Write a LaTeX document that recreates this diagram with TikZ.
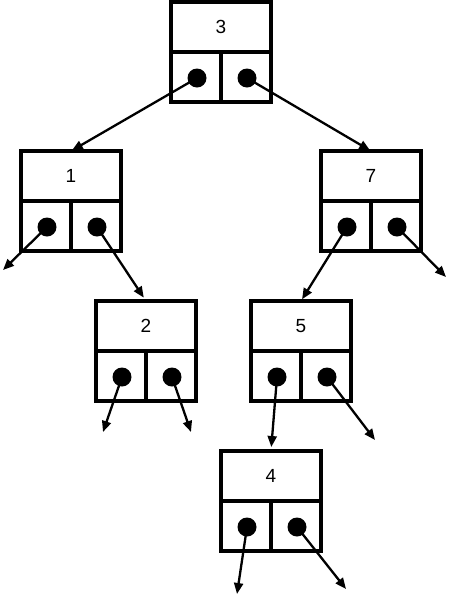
\documentclass[tikz,border=0pt]{standalone}
\usepackage{fontspec}
\setmainfont{Liberation Sans}
\usetikzlibrary{arrows.meta}
\tikzset{
  half/.style={draw, line width=3.2pt, minimum width=100pt, minimum height=50pt, inner sep=0pt, outer sep=0pt, font=\fontsize{19}{22}\selectfont},
  cell/.style={draw, line width=3.2pt, minimum width=50pt, minimum height=50pt, inner sep=0pt, outer sep=0pt},
  dot/.style={circle, fill=black, minimum size=19pt, inner sep=0pt, outer sep=0pt},
  ptr/.style={line width=2.3pt, -{Triangle[length=11pt,width=9pt]}}
}
\newcommand\myrecord[4]{%
  \node[half] (#1) at ({#2+50},{#3+25}) {#4};
  \node[cell] (#1L) at ({#2+25},{#3+75}) {};
  \node[cell] (#1R) at ({#2+75},{#3+75}) {};
  \node[dot] (#1Ld) at ({#2+26},{#3+76}) {};
  \node[dot] (#1Rd) at ({#2+76},{#3+76}) {};
}
\begin{document}
\begin{tikzpicture}[x=1pt,y=-1pt]
\useasboundingbox (0,0) rectangle (448,598);
\myrecord{n3}{171}{2}{3}
\myrecord{n1}{21}{151}{1}
\myrecord{n7}{321}{151}{7}
\myrecord{n2}{96}{301}{2}
\myrecord{n5}{251}{301}{5}
\myrecord{n4}{221}{451}{4}
\coordinate (e1l) at (3,270);
\coordinate (e7r) at (446,277);
\coordinate (e2l) at (103,432);
\coordinate (e2r) at (191,432);
\coordinate (e5r) at (375,440);
\coordinate (e4l) at (237,594);
\coordinate (e4r) at (346,589);
\draw[ptr, shorten >=1pt] (n3Ld.center) -- (n1.north);
\draw[ptr, shorten >=1pt] (n3Rd.center) -- (n7.north);
\draw[ptr] (n1Ld.center) -- (e1l);
\draw[ptr, shorten >=4pt] (n1Rd.center) -- (n2.north);
\draw[ptr, shorten >=2pt] (n7Ld.center) -- (n5.north);
\draw[ptr] (n7Rd.center) -- (e7r);
\draw[ptr] (n2Ld.center) -- (e2l);
\draw[ptr] (n2Rd.center) -- (e2r);
\draw[ptr, shorten >=4pt] (n5Ld.center) -- (n4.north);
\draw[ptr] (n5Rd.center) -- (e5r);
\draw[ptr] (n4Ld.center) -- (e4l);
\draw[ptr] (n4Rd.center) -- (e4r);
\end{tikzpicture}
\end{document}
